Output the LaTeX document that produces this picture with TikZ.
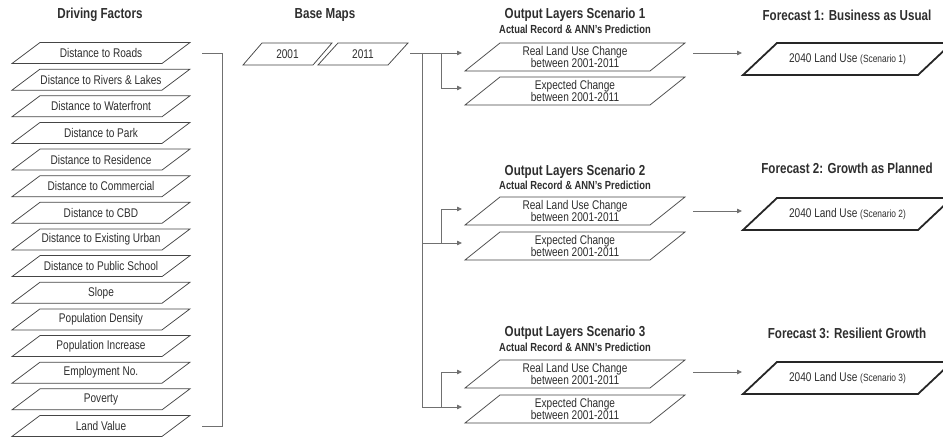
\documentclass[tikz,border=0pt]{standalone}
\usepackage{fontspec}
\setmainfont[FakeStretch=0.8]{Liberation Sans}
\usetikzlibrary{arrows.meta}
\definecolor{txtc}{HTML}{2E2E2E}
\definecolor{linec}{HTML}{707070}
\definecolor{boxc}{HTML}{454545}
\tikzset{
 pbox/.style={draw=boxc, line width=0.75pt},
 fbox/.style={draw=black!85, line width=1.8pt},
 ptext/.style={text=txtc, font=\fontsize{12.6}{12.6}\selectfont, align=center, inner sep=0pt},
 ttl/.style={text=txtc, font=\bfseries\fontsize{14.5}{16}\selectfont},
 subttl/.style={text=txtc, font=\bfseries\fontsize{11.7}{13}\selectfont},
 conn/.style={draw=linec, line width=0.8pt},
 arr/.style={conn, -{Triangle[length=5pt,width=4.5pt]}},
}
\newcommand\pgram[8]{%
 \draw[#1] ({#3},{#4+#6}) -- ++({#5},0) -- ++({#7},{-#6}) -- ++({-#5},0) -- cycle;
 \node[ptext] (#2) at ({#3+#5/2+#7/2},{#4+#6/2}) {#8};}
\begin{document}
\begin{tikzpicture}[x=1pt,y=-1pt]
\useasboundingbox (0,0) rectangle (943,441);
\clip (0,0) rectangle (943,441);
% titles
\node[ttl] (tdf) at (100,15) {Driving Factors};
\node[ttl] (tbm) at (325,15) {Base Maps};
\node[ttl] (to1) at (575,15) {Output Layers Scenario 1};
\node[subttl] (so1) at (575,29) {Actual Record \& ANN's Prediction};
\node[ttl] (to2) at (575,172) {Output Layers Scenario 2};
\node[subttl] (so2) at (575,185) {Actual Record \& ANN's Prediction};
\node[ttl] (to3) at (575,333) {Output Layers Scenario 3};
\node[subttl] (so3) at (575,347) {Actual Record \& ANN's Prediction};
\node[ttl] (tf1) at (847,15) {Forecast 1: Business as Usual};
\node[ttl] (tf2) at (847,168) {Forecast 2: Growth as Planned};
\node[ttl] (tf3) at (847,333) {Forecast 3: Resilient Growth};
% driving factors
\foreach \t [count=\i] in {Distance to Roads, Distance to Rivers \& Lakes, Distance to Waterfront, Distance to Park, Distance to Residence, Distance to Commercial, Distance to CBD, Distance to Existing Urban, Distance to Public School, Slope, Population Density, Population Increase, Employment No., Poverty, Land Value}
 {\pgram{pbox}{f\i}{12}{42.5+26.64*(\i-1)}{150}{21}{28}{\t}}
\coordinate (bk1) at (202,53);
\coordinate (bk2) at (222,53);
\coordinate (bk3) at (222,426);
\coordinate (bk4) at (202,426);
\draw[conn] (bk1) -- (bk2) -- (bk3) -- (bk4);
% base maps
\pgram{pbox}{m1}{243}{43}{70}{22}{19}{2001}
\pgram{pbox}{m2}{318}{43}{70}{22}{20}{2011}
% output layers
\pgram{pbox}{r1}{465}{43}{185}{28}{35}{Real Land Use Change\\between 2001-2011}
\pgram{pbox}{e1}{465}{77}{185}{28}{35}{Expected Change\\between 2001-2011}
\pgram{pbox}{r2}{465}{197}{185}{28}{35}{Real Land Use Change\\between 2001-2011}
\pgram{pbox}{e2}{465}{232}{185}{28}{35}{Expected Change\\between 2001-2011}
\pgram{pbox}{r3}{465}{360}{185}{28}{35}{Real Land Use Change\\between 2001-2011}
\pgram{pbox}{e3}{465}{395}{185}{28}{35}{Expected Change\\between 2001-2011}
% forecasts
\pgram{fbox}{p1}{743}{43}{175}{32}{34}{2040 Land Use {\fontsize{10.5}{11}\selectfont (Scenario 1)}}
\pgram{fbox}{p2}{743}{198}{175}{32}{34}{2040 Land Use {\fontsize{10.5}{11}\selectfont (Scenario 2)}}
\pgram{fbox}{p3}{743}{362}{175}{32}{34}{2040 Land Use {\fontsize{10.5}{11}\selectfont (Scenario 3)}}
% connectors from base maps
\coordinate (s0) at (410,53);
\coordinate (v1) at (422,53);
\coordinate (v2) at (422,243);
\coordinate (v3) at (422,407);
\coordinate (a1) at (462,53);
\coordinate (a2) at (462,88);
\coordinate (a3) at (462,209);
\coordinate (a4) at (462,243);
\coordinate (a5) at (462,372);
\coordinate (a6) at (462,407);
\draw[arr] (s0) -- (a1);
\draw[conn] (v1) -- (v3);
\draw[arr] (v3) -- (a6);
\draw[arr] (441,53) |- (a2);
\draw[arr] (v2) -- (a4);
\draw[arr] (441,243) |- (a3);
\draw[arr] (441,407) |- (a5);
% connectors to forecasts
\coordinate (o1) at (693,53);
\coordinate (o2) at (693,211);
\coordinate (o3) at (693,372);
\coordinate (q1) at (742,53);
\coordinate (q2) at (742,211);
\coordinate (q3) at (742,372);
\draw[arr] (o1) -- (q1);
\draw[arr] (o2) -- (q2);
\draw[arr] (o3) -- (q3);
\end{tikzpicture}
\end{document}
